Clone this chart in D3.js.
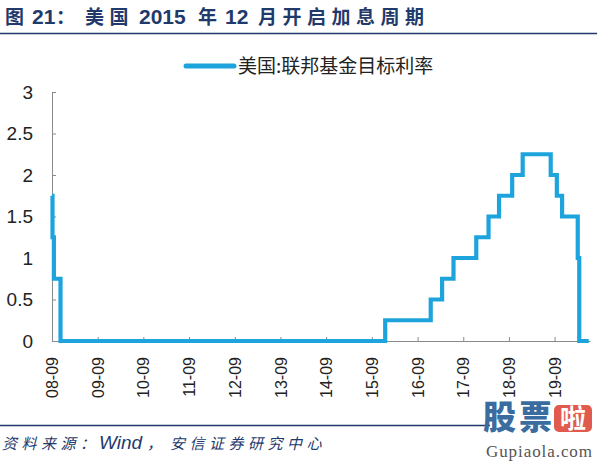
<!DOCTYPE html>
<html><head><meta charset="utf-8">
<script src="https://cdn.jsdelivr.net/npm/d3@7/dist/d3.min.js"></script>
<style>
html,body{margin:0;padding:0;background:#fff;}
svg{display:block;}
</style></head>
<body>
<svg id="c" width="600" height="463"></svg>
<script>
// ---- data ----
const changeDates = ["2008-09-01","2008-09-05","2008-09-16","2008-11-08","2015-12-17","2016-12-15","2017-03-16","2017-06-15","2017-12-14","2018-03-22","2018-06-14","2018-09-27","2018-12-20","2019-08-01","2019-09-19","2019-10-31","2020-03-04","2020-03-16","2020-05-31"];
const rateValues  = [1.75,1.25,0.75,0,0.25,0.5,0.75,1.0,1.25,1.5,1.75,2.0,2.25,2.0,1.75,1.5,1.0,0,0];
const xTickDates  = ["2008-09-01","2009-09-01","2010-09-01","2011-09-01","2012-09-01","2013-09-01","2014-09-01","2015-09-01","2016-09-01","2017-09-01","2018-09-01","2019-09-01"];
const xTickLabels = ["08-09","09-09","10-09","11-09","12-09","13-09","14-09","15-09","16-09","17-09","18-09","19-09"];
const yTicks      = [0,0.5,1,1.5,2,2.5,3];
const yTickLabels = ["0","0.5","1","1.5","2","2.5","3"];
const seriesName  = "美国:联邦基金目标利率";

const parse = d3.timeParse("%Y-%m-%d");
const data = changeDates.map((d,i)=>({date:parse(d), v:rateValues[i]}));

const svg = d3.select("#c");
const navy = "#1f3a6b";
const lineColor = "#1ea4dc";
const CJK = "'Noto Sans CJK SC',sans-serif";
const LAT = "'Liberation Sans',Arial,sans-serif";

// title (segments: text, x, latin?)
const titleParts = [["图",5,false],["21",32,true],["：",56,false],["美国",85,false],["2015",139,true],["年",198,false],["12",225,true],["月开启加息周期",258,false]];
const title = svg.append("text").attr("y",24).attr("fill",navy);
titleParts.forEach(([t,px,lat])=>{
  title.append("tspan").attr("x",px).text(t)
    .style("font-family", lat ? LAT : CJK)
    .style("font-size", lat ? "21px" : "19px")
    .style("font-weight", lat ? "bold" : "600")
    .style("letter-spacing", lat ? "0px" : "5.5px");
});
svg.append("line").attr("x1",0).attr("x2",597).attr("y1",33.5).attr("y2",33.5)
  .attr("stroke",navy).attr("stroke-width",1.6);

// scales
const x = d3.scaleTime().domain([parse("2008-09-01"), parse("2020-06-10")]).range([52,590]);
const y = d3.scaleLinear().domain([0,3]).range([341,92]);

// axes
const xAxis = d3.axisBottom(x).tickValues(xTickDates.map(parse))
  .tickFormat((d,i)=>xTickLabels[i]).tickSizeInner(-4).tickSizeOuter(0);
const gx = svg.append("g").attr("transform","translate(0,341)").call(xAxis);
gx.select(".domain").attr("stroke","#8a8a8a");
gx.selectAll(".tick line").attr("stroke","#8a8a8a");
gx.selectAll(".tick text")
  .attr("transform","rotate(-90)")
  .attr("x",-16).attr("y",0).attr("dy","0.35em")
  .attr("text-anchor","end")
  .attr("fill","#222")
  .style("font-family",LAT).style("font-size","16px");

const yAxis = d3.axisLeft(y).tickValues(yTicks).tickFormat((d,i)=>yTickLabels[i])
  .tickSizeInner(-4).tickSizeOuter(0).tickPadding(19);
const gy = svg.append("g").attr("transform","translate(52,0)").call(yAxis);
gy.select(".domain").attr("stroke","#8a8a8a");
gy.selectAll(".tick line").attr("stroke","#8a8a8a");
gy.selectAll(".tick text").attr("fill","#222")
  .style("font-family",LAT).style("font-size","19px");

// line
const line = d3.line().x(d=>x(d.date)).y(d=>y(d.v)).curve(d3.curveStepAfter);
svg.append("path").datum(data).attr("d",line)
  .attr("fill","none").attr("stroke",lineColor).attr("stroke-width",4.2)
  .attr("stroke-linejoin","miter");

// legend
svg.append("line").attr("x1",186).attr("x2",234).attr("y1",66).attr("y2",66)
  .attr("stroke",lineColor).attr("stroke-width",5).attr("stroke-linecap","round");
svg.append("text").attr("x",238).attr("y",73).text(seriesName)
  .attr("fill","#222").style("font-family",CJK).style("font-size","19px");

// bottom rule and source
svg.append("line").attr("x1",0).attr("x2",490).attr("y1",425.5).attr("y2",425.5)
  .attr("stroke",navy).attr("stroke-width",1.6);
const srcParts = [["资料来源：",2,false],["Wind",99,true],["，",147,false],["安信证券研究中心",170,false]];
const src = svg.append("text").attr("y",449).attr("fill",navy).style("font-style","italic");
srcParts.forEach(([t,px,lat])=>{
  src.append("tspan").attr("x",px).text(t)
    .style("font-family", lat ? LAT : CJK)
    .style("font-size", lat ? "19px" : "15px")
    .style("letter-spacing", lat ? "0px" : "4.5px");
});

// watermark
const wm = svg.append("g");
wm.append("text").attr("x",483).attr("y",429).text("股票")
  .attr("fill","#3a6ca0").style("font-family",CJK)
  .style("font-weight","900").style("font-size","33px").attr("textLength",69).attr("lengthAdjust","spacing");
wm.append("rect").attr("x",554).attr("y",405).attr("width",38).attr("height",27).attr("rx",5)
  .attr("fill","#e05a4e");
wm.append("text").attr("x",573).attr("y",428).attr("text-anchor","middle").text("啦")
  .attr("fill","#fff").style("font-family",CJK)
  .style("font-weight","bold").style("font-size","26px");
wm.append("text").attr("x",486).attr("y",457).text("Gupiaola.com")
  .attr("fill","#555").style("font-family","'Liberation Serif','DejaVu Serif',serif").style("font-size","17px")
  .attr("textLength",106).attr("lengthAdjust","spacing");
</script>
</body></html>
